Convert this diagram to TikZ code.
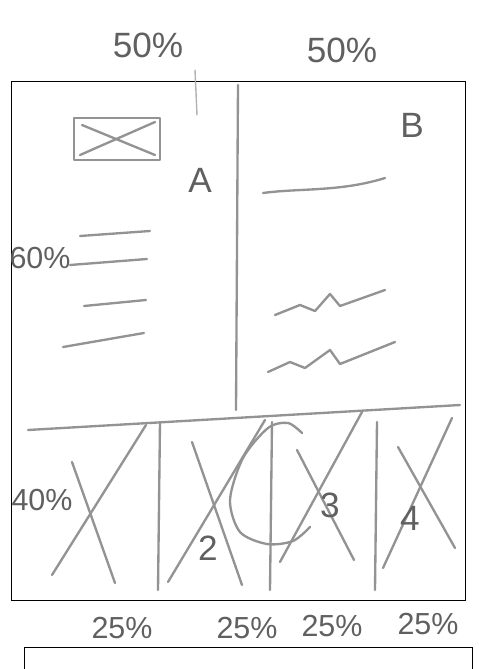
\documentclass[tikz,border=0pt]{standalone}
\usepackage{fontspec}
\setsansfont{Liberation Sans}
\usetikzlibrary{positioning}
\tikzset{
  frame/.style={draw=black, line width=0.8pt},
  pencil/.style={draw=gray!85, line width=2pt, line cap=round, line join=round},
  faint/.style={draw=gray!60, line width=1.2pt, line cap=round},
  label/.style={text=gray!75!black, font=\sffamily\fontsize{30}{32}\selectfont, inner sep=0pt},
  small/.style={label, font=\sffamily\fontsize{26}{28}\selectfont}
}
\begin{document}
\begin{tikzpicture}[x=0.03cm, y=-0.03cm]
        \useasboundingbox (0,0) rectangle (479,669);
        % Rahmen
        \draw [frame] (11,81) rectangle (465,600);
        \draw [frame] (24,669) -- (24,647) -- (472,647) -- (472,669);

        % Spaltenbreiten oben
        \node (top1) [label] at (148,45) {50\%};
        \node (top2) [label] at (342,50) {50\%};
        \draw [faint] (195,70) -- (197,115);

        % Teilung
        \draw [pencil] (238,85) -- (236,410);
        \draw [pencil] (28,430) -- (460,405);

        % Bereich A
        \draw [pencil] (74,118) rectangle (160,160);
        \draw [pencil] (82,125) -- (155,155);
        \draw [pencil] (80,155) -- (155,122);
        \node (boxA) [label] at (200,180) {A};
        \node (rowA) [small] at (40,258) {60\%};
        \draw [pencil] (80,236) -- (150,231);
        \draw [pencil] (70,265) -- (147,259);
        \draw [pencil] (84,306) -- (146,300);
        \draw [pencil] (63,347) -- (144,333);

        % Bereich B
        \node (boxB) [label] at (412,125) {B};
        \draw [pencil] (263,193) .. controls (300,188) and (340,192) .. (385,178);
        \draw [pencil] (275,315) -- (300,305) -- (315,311) -- (330,294) -- (340,306) -- (385,290);
        \draw [pencil] (268,372) -- (290,362) -- (305,368) -- (330,350) -- (340,364) -- (395,342);

        % untere Reihe
        \node (rowB) [small] at (42,500) {40\%};
        \foreach \xa in {160,272,377}
            \draw [pencil] (\xa,422) -- (\xa-2,590);
        \draw [pencil] (52,575) -- (146,425);
        \draw [pencil] (72,462) -- (115,583);
        \draw [pencil] (168,582) -- (265,420);
        \draw [pencil] (192,442) -- (242,585);
        \draw [pencil] plot [smooth] coordinates {(302,433) (288,423) (268,428) (243,458) (230,500) (240,532) (267,544) (293,541) (310,527)};
        \draw [pencil] (280,562) -- (362,412);
        \draw [pencil] (297,450) -- (354,560);
        \draw [pencil] (383,568) -- (452,418);
        \draw [pencil] (398,447) -- (455,548);
        \node (cell2) [label] at (208,548) {2};
        \node (cell3) [label] at (330,505) {3};
        \node (cell4) [label] at (410,518) {4};

        % Breiten unten
        \node (w1) [small] at (122,628) {25\%};
        \node (w2) [small] at (247,628) {25\%};
        \node (w3) [small] at (332,626) {25\%};
        \node (w4) [small] at (428,624) {25\%};
    \end{tikzpicture}
\end{document}
